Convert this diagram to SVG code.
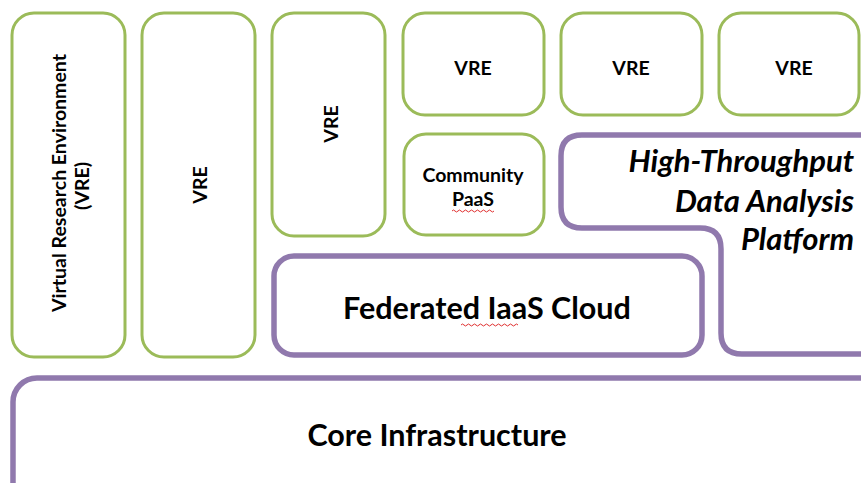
<svg xmlns="http://www.w3.org/2000/svg" width="861" height="483" viewBox="0 0 861 483">
<style>
.g{fill:#fff;stroke:#9bbb59;stroke-width:3}
.p{fill:#fff;stroke:#9079ad;stroke-width:5.5}
.t{font-family:Lato,"Liberation Sans",sans-serif;font-weight:bold;fill:#000;text-anchor:middle}
.s{font-size:19.5px}
.b{font-size:30.5px}
.i{font-size:31px;font-style:italic;text-anchor:end}
.w{fill:none;stroke:#e03030;stroke-width:1}
</style>
<rect width="861" height="483" fill="#fff"/>
<g id="vre-main"><rect class="g" x="12" y="13" width="113" height="344" rx="22"/>
<text class="t s" transform="translate(66,183) rotate(-90)">Virtual Research Environment</text>
<text class="t s" transform="translate(89,186) rotate(-90)">(VRE)</text></g>
<g id="vre2"><rect class="g" x="142" y="13" width="113" height="344" rx="22"/>
<text class="t s" transform="translate(207,185) rotate(-90)">VRE</text></g>
<g id="vre3"><rect class="g" x="272" y="13" width="113" height="223" rx="22"/>
<text class="t s" transform="translate(338,124) rotate(-90)">VRE</text></g>
<g id="vre4"><rect class="g" x="403" y="13" width="141" height="102" rx="22"/>
<text class="t s" x="473" y="75">VRE</text></g>
<g id="vre5"><rect class="g" x="561" y="13" width="141" height="102" rx="22"/>
<text class="t s" x="631" y="75">VRE</text></g>
<g id="vre6"><rect class="g" x="719" y="13" width="140" height="102" rx="22"/>
<text class="t s" x="794" y="75">VRE</text></g>
<g id="community-paas"><rect class="g" x="404" y="134" width="140" height="101" rx="22"/>
<text class="t s" x="473" y="182">Community</text>
<text class="t s" x="473" y="206">PaaS</text>
<path class="w" d="M452 211 q1.5 -2 3 0 t3 0 t3 0 t3 0 t3 0 t3 0 t3 0 t3 0 t3 0 t3 0 t3 0 t3 0 t3 0 t3 0"/></g>
<g id="htda"><path class="p" d="M882 135 H582 Q561 135 561 156 V207 Q561 228 582 228 H700 Q721 228 721 249 V333 Q721 354 742 354 H882"/>
<text class="t i" x="854" y="172">High-Throughput</text>
<text class="t i" x="854" y="212">Data Analysis</text>
<text class="t i" x="854" y="250">Platform</text></g>
<g id="iaas"><rect class="p" x="274" y="256" width="428" height="99" rx="20"/>
<text class="t b" x="487" y="319">Federated IaaS Cloud</text>
<path class="w" d="M461 325 q1.5 -2 3 0 t3 0 t3 0 t3 0 t3 0 t3 0 t3 0 t3 0 t3 0 t3 0 t3 0 t3 0 t3 0 t3 0 t3 0 t3 0 t3 0 t3 0 t3 0"/></g>
<g id="core"><rect class="p" x="13" y="378" width="880" height="140" rx="24"/>
<text class="t b" x="437" y="446">Core Infrastructure</text></g>
<g id="connectors"/>
</svg>
